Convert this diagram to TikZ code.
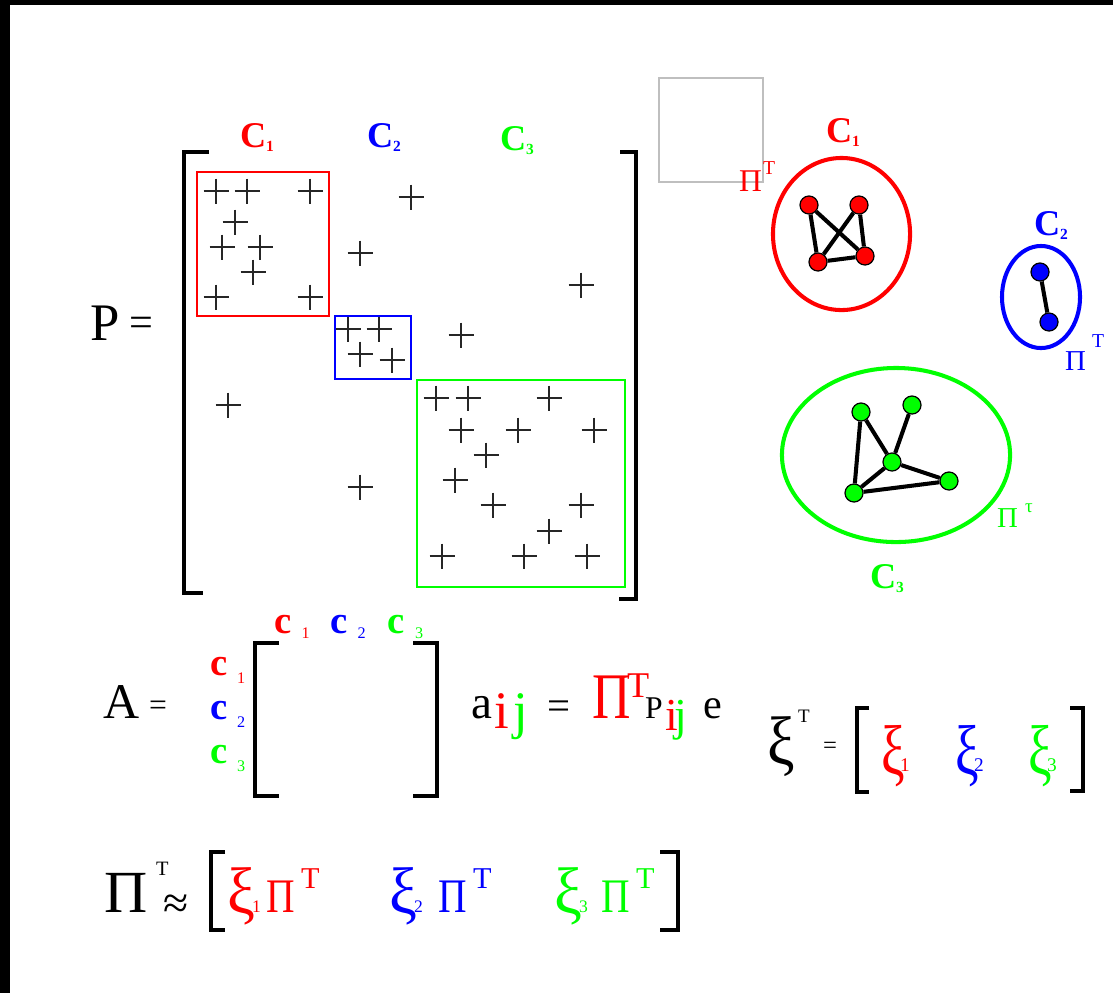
\documentclass[tikz,border=0pt]{standalone}
\usepackage{fontspec}
\setmainfont{Liberation Serif}
\definecolor{rojo}{RGB}{255,0,0}
\definecolor{azul}{RGB}{0,0,255}
\definecolor{verde}{RGB}{0,255,0}
\newcommand{\fsz}[1]{\fontsize{#1}{#1}\selectfont}
\newcommand{\clab}[1]{{\fsz{10.3}\bfseries C\raisebox{-1.4pt}{\fsz{4.4}#1}}}
\newcommand{\xs}[2]{\scalebox{#1}[1]{#2}}

\tikzset{
  txt/.style={inner sep=0pt, outer sep=0pt, anchor=base west},
  brk/.style={line width=1.2pt},
  caja/.style={line width=0.75pt},
  cruz/.style={black!85, line width=0.35pt},
  grupo/.style={line width=1.15pt},
  vtx/.style={circle, draw=black, line width=0.35pt, minimum size=0.18cm, inner sep=0pt},
  link/.style={line width=1.15pt}
}

\begin{document}
\begin{tikzpicture}[x=0.01cm, y=-0.01cm]
  \useasboundingbox (0,0) rectangle (1113,993);
  % bordes negros
  \fill[black] (0,0) rectangle (1113,5);
  \fill[black] (0,0) rectangle (10,993);

  % matriz P
  \node[txt, font=\fsz{15}] (P) at (90,340) {P};
  \node[inner sep=0pt, font=\fsz{12}] (Peq) at (141,327) {=};
  \draw[brk] (209,152) -- (184,152) -- (184,593) -- (203,593);
  \draw[brk] (620,152) -- (636,152) -- (636,599) -- (619,599);
  \node[txt, rojo] (C1) at (240,147) {\clab{1}};
  \node[txt, azul] (C2) at (367,147) {\clab{2}};
  \node[txt, verde] (C3) at (500,150) {\clab{3}};
  \draw[caja, rojo] (197,172) rectangle (329,316);
  \draw[caja, azul] (335,316) rectangle (411,379);
  \draw[caja, verde] (417,380) rectangle (625,587);
  \foreach \x/\y in {216/191, 247/191, 310/191, 235/222, 222/247, 260/247,
      253/272, 216/297, 310/297, 411/197, 360/253, 581/285,
      348/329, 379/329, 360/354, 392/360, 461/335, 228/405, 360/487,
      436/398, 468/398, 549/398, 461/430, 518/430, 594/430, 486/455,
      455/480, 493/505, 581/505, 549/531, 442/556, 524/556, 587/556}
    \draw[cruz] (\x-12.5,\y) -- (\x+12.5,\y) (\x,\y-12.5) -- (\x,\y+12.5);

  % cuadro gris y Pi^T
  \draw[black!25, line width=0.4pt] (659,78) rectangle (763,182);
  \node[txt, rojo, font=\fsz{9}] (piR) at (739,191) {Π};
  \node[txt, rojo, font=\fsz{5.6}] (tR) at (763,174) {T};

  % grupo C1
  \draw[grupo, rojo] (841.5,234) ellipse [x radius=0.685cm, y radius=0.76cm];
  \node[txt, rojo] (gC1) at (826,142) {\clab{1}};
  \node[vtx, fill=rojo] (r1) at (809,205) {};
  \node[vtx, fill=rojo] (r2) at (859,205) {};
  \node[vtx, fill=rojo] (r3) at (818,262) {};
  \node[vtx, fill=rojo] (r4) at (865,256) {};
  \draw[link] (r1) -- (r3) (r1) -- (r4) (r2) -- (r3) (r2) -- (r4) (r3) -- (r4);

  % grupo C2
  \draw[grupo, azul] (1041,297) ellipse [x radius=0.39cm, y radius=0.51cm];
  \node[txt, azul] (gC2) at (1034,235) {\clab{2}};
  \node[vtx, fill=azul] (b1) at (1040,272) {};
  \node[vtx, fill=azul] (b2) at (1049,322) {};
  \draw[link] (b1) -- (b2);
  \node[txt, azul, font=\fsz{8.2}] (piB) at (1065,370) {Π};
  \node[txt, azul, font=\fsz{5.6}] (tB) at (1092,347) {T};

  % grupo C3
  \draw[grupo, verde] (896,455) ellipse [x radius=1.14cm, y radius=0.87cm];
  \node[txt, verde] (gC3) at (870,588) {\clab{3}};
  \node[vtx, fill=verde] (v1) at (861,412) {};
  \node[vtx, fill=verde] (v2) at (912,405) {};
  \node[vtx, fill=verde] (v3) at (892,462) {};
  \node[vtx, fill=verde] (v4) at (949,481) {};
  \node[vtx, fill=verde] (v5) at (854,493) {};
  \draw[link] (v1) -- (v5) (v1) -- (v3) (v2) -- (v3) (v3) -- (v4) (v3) -- (v5) (v5) -- (v4);
  \node[txt, verde, font=\fsz{8.2}] (piV) at (997,527) {Π};
  \node[txt, verde, font=\fsz{5.4}] (tV) at (1025,512) {τ};

  % matriz A
  \node[txt, font=\fsz{14.2}] (A) at (103,718) {A};
  \node[inner sep=0pt, font=\fsz{9}] (Aeq) at (158,708) {=};
  \draw[brk] (279,643) -- (255,643) -- (255,796) -- (279,796);
  \draw[brk] (413,643) -- (437,643) -- (437,796) -- (413,796);
  \foreach \col/\k/\y in {rojo/1/675, azul/2/719, verde/3/763} {
    \node[txt, \col, font=\fsz{11}\bfseries] (fila\k) at (210,\y) {c};
    \node[txt, \col, font=\fsz{4.6}] (filasub\k) at (237,\y+8) {\k};
  }
  \foreach \col/\k/\x in {rojo/1/274, azul/2/330, verde/3/387.5} {
    \node[txt, \col, font=\fsz{11}\bfseries] (col\k) at (\x,633) {c};
    \node[txt, \col, font=\fsz{4.6}] (colsub\k) at (\x+27.5,638) {\k};
  }

  % a_ij = Pi^T P_ij e
  \node[txt, font=\fsz{13.4}] (a) at (471,718) {a};
  \node[txt, rojo, font=\fsz{15}] (ai) at (494,728) {i};
  \node[txt, verde, font=\fsz{15}] (aj) at (513,728) {j};
  \node[inner sep=0pt, font=\fsz{11.6}] (aeq) at (558.5,710) {=};
  \node[txt, rojo, font=\fsz{18.5}] (piE) at (592,718) {\xs{0.82}{Π}};
  \node[txt, rojo, font=\fsz{10.3}] (tE) at (627,697) {T};
  \node[txt, font=\fsz{9}] (pE) at (645,718) {P};
  \node[txt, rojo, font=\fsz{13}] (pi) at (665,730) {i};
  \node[txt, verde, font=\fsz{13}] (pj) at (674,730) {j};
  \node[txt, font=\fsz{12}] (e) at (703,718) {e};

  % xi^T
  \node[txt, anchor=north west, font=\fsz{19.5}] (xi) at (767,717) {\xs{0.9}{ξ}};
  \node[txt, font=\fsz{5.4}] (xiT) at (798,722) {T};
  \node[inner sep=0pt, font=\fsz{7}] (xieq) at (830,748) {=};
  \draw[brk, line width=1.4pt] (869,708) -- (857,708) -- (857,792) -- (869,792);
  \draw[brk, line width=1.4pt] (1070,708) -- (1083,708) -- (1083,791) -- (1070,791);
  \foreach \col/\k/\x in {rojo/1/881, azul/2/955, verde/3/1028} {
    \node[txt, anchor=north west, \col, font=\fsz{20}] (xi\k) at (\x,725) {\xs{0.75}{ξ}};
    \node[txt, \col, font=\fsz{5.5}] (xisub\k) at (\x+19,771) {\k};
  }

  % Pi^T aproximado
  \node[txt, font=\fsz{17}] (piF) at (104,912) {Π};
  \node[txt, font=\fsz{5.8}] (tF) at (156,875) {T};
  \node[inner sep=0pt, font=\fsz{13}] (aprox) at (176,907) {≈};
  \draw[brk, line width=1.4pt] (225,852) -- (211,852) -- (211,930) -- (225,930);
  \draw[brk, line width=1.4pt] (660,852) -- (678,852) -- (678,930) -- (660,930);
  \foreach \col/\k/\x/\p in {rojo/1/227/266, azul/2/389/438, verde/3/554/601} {
    \node[txt, anchor=north west, \col, font=\fsz{18.7}] (fx\k) at (\x,868) {\xs{0.95}{ξ}};
    \node[txt, \col, font=\fsz{5}] (fxsub\k) at (\x+25,912) {\k};
    \node[txt, \col, font=\fsz{13.7}] (fpi\k) at (\p,912) {\xs{0.82}{Π}};
    \node[txt, \col, font=\fsz{8.6}] (ft\k) at (\p+35,888) {T};
  }
\end{tikzpicture}
\end{document}
